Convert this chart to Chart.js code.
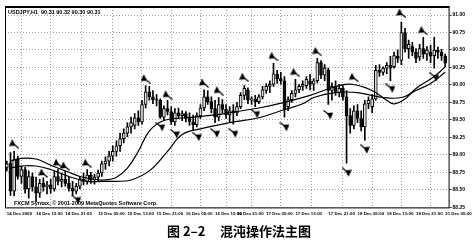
<!DOCTYPE html>
<html lang="zh">
<head>
<meta charset="UTF-8">
<title>混沌操作法主图</title>
<script src="https://cdn.jsdelivr.net/npm/chart.js@4.4.1/dist/chart.umd.min.js"></script>
<style>
  html, body { margin: 0; padding: 0; background: #fff; }
</style>
</head>
<body>
<canvas id="chart" width="475" height="243"></canvas>
<script>
// USDJPY H1 candles (one value per bar)
const opens = [
  88.82, 88.88, 88.48, 88.94, 88.69, 88.79, 88.51, 88.69, 88.54, 88.45,
  88.59, 88.54, 88.57, 88.51, 88.69, 88.62, 88.65, 88.59, 88.52, 88.48,
  88.55, 88.65, 88.62, 88.71, 88.64, 88.68, 88.74, 88.87, 88.91, 88.98,
  89.05, 89.13, 89.23, 89.31, 89.40, 89.42, 89.53, 89.47, 89.72, 89.90,
  89.83, 89.79, 89.78, 89.54, 89.66, 89.62, 89.47, 89.60, 89.56, 89.59,
  89.52, 89.47, 89.43, 89.56, 89.67, 89.83, 89.76, 89.66, 89.54, 89.72,
  89.65, 89.57, 89.63, 89.60, 89.69, 89.85, 89.93, 89.78, 89.80, 89.76,
  89.83, 89.92, 89.98, 90.01, 90.15, 90.09, 90.06, 89.69, 89.79, 89.88,
  89.93, 89.98, 89.99, 90.06, 90.01, 90.06, 90.32, 90.14, 90.21, 89.92,
  89.98, 89.89, 89.95, 89.83, 89.56, 89.42, 89.63, 89.52, 89.40, 89.73,
  89.69, 89.80, 90.21, 90.18, 90.24, 90.28, 90.26, 90.41, 90.35, 90.75,
  90.52, 90.55, 90.47, 90.40, 90.52, 90.44, 90.47, 90.42, 90.50, 90.47,
  90.41
];
const highs = [
  88.91, 89.03, 89.05, 88.98, 88.84, 88.82, 88.77, 88.74, 88.68, 88.65,
  88.67, 88.62, 88.65, 88.77, 88.79, 88.74, 88.77, 88.68, 88.62, 88.59,
  88.68, 88.74, 88.79, 88.75, 88.72, 88.78, 88.91, 88.97, 89.05, 89.13,
  89.20, 89.31, 89.37, 89.46, 89.54, 89.59, 89.63, 89.78, 89.99, 89.98,
  89.92, 89.86, 89.80, 89.70, 89.78, 89.69, 89.66, 89.67, 89.63, 89.62,
  89.60, 89.57, 89.60, 89.72, 89.93, 89.92, 89.83, 89.78, 89.82, 89.79,
  89.72, 89.69, 89.72, 89.75, 89.89, 89.99, 89.96, 89.83, 89.85, 89.86,
  89.98, 90.02, 90.06, 90.31, 90.21, 90.18, 90.12, 89.83, 89.92, 90.08,
  90.01, 90.06, 90.12, 90.15, 90.09, 90.38, 90.35, 90.29, 90.24, 90.03,
  90.06, 90.01, 89.99, 89.92, 89.66, 89.70, 89.72, 89.63, 89.78, 89.83,
  89.86, 90.28, 90.29, 90.26, 90.32, 90.41, 90.47, 90.50, 90.90, 90.81,
  90.64, 90.61, 90.52, 90.58, 90.68, 90.55, 90.57, 90.68, 90.54, 90.51,
  90.44
];
const lows = [
  88.77, 88.42, 88.41, 88.65, 88.59, 88.45, 88.38, 88.48, 88.33, 88.39,
  88.48, 88.44, 88.45, 88.48, 88.57, 88.54, 88.55, 88.48, 88.42, 88.44,
  88.51, 88.57, 88.58, 88.59, 88.58, 88.62, 88.69, 88.79, 88.84, 88.91,
  88.98, 89.05, 89.17, 89.26, 89.31, 89.37, 89.42, 89.44, 89.67, 89.78,
  89.73, 89.70, 89.52, 89.50, 89.57, 89.43, 89.42, 89.52, 89.49, 89.47,
  89.42, 89.36, 89.40, 89.52, 89.63, 89.72, 89.60, 89.46, 89.49, 89.60,
  89.52, 89.47, 89.44, 89.56, 89.66, 89.79, 89.73, 89.72, 89.69, 89.73,
  89.80, 89.88, 89.89, 89.98, 90.02, 90.01, 89.54, 89.63, 89.75, 89.83,
  89.89, 89.92, 89.95, 89.93, 89.92, 90.03, 90.09, 90.06, 89.72, 89.78,
  89.85, 89.83, 89.78, 88.88, 89.31, 89.37, 89.46, 89.34, 89.21, 89.66,
  89.60, 89.78, 90.12, 90.14, 90.16, 90.06, 90.24, 90.32, 90.29, 90.47,
  90.38, 90.42, 90.32, 90.35, 90.38, 90.35, 90.32, 90.24, 90.38, 90.35,
  90.26
];
const closes = [
  88.87, 88.48, 88.94, 88.69, 88.79, 88.51, 88.69, 88.54, 88.45, 88.59,
  88.54, 88.57, 88.51, 88.69, 88.62, 88.65, 88.59, 88.52, 88.48, 88.55,
  88.65, 88.62, 88.71, 88.64, 88.68, 88.74, 88.87, 88.91, 88.98, 89.05,
  89.13, 89.23, 89.31, 89.40, 89.46, 89.53, 89.47, 89.72, 89.90, 89.83,
  89.79, 89.78, 89.54, 89.66, 89.62, 89.47, 89.60, 89.56, 89.59, 89.52,
  89.47, 89.43, 89.56, 89.67, 89.83, 89.76, 89.66, 89.54, 89.72, 89.65,
  89.57, 89.63, 89.60, 89.69, 89.85, 89.95, 89.78, 89.80, 89.76, 89.83,
  89.93, 89.98, 90.01, 90.16, 90.09, 90.06, 89.66, 89.79, 89.88, 89.93,
  89.98, 90.01, 90.08, 90.01, 90.06, 90.32, 90.14, 90.24, 89.92, 89.98,
  89.89, 89.95, 89.83, 89.56, 89.42, 89.63, 89.52, 89.40, 89.73, 89.78,
  89.80, 90.21, 90.18, 90.24, 90.28, 90.24, 90.42, 90.38, 90.75, 90.52,
  90.58, 90.47, 90.38, 90.52, 90.44, 90.50, 90.41, 90.50, 90.47, 90.42,
  90.31
];

// fractal arrows (bar index, price where the arrow sits)
const upBars = [2, 10, 14, 16, 22, 38, 44, 54, 58, 65, 73, 79, 85, 95, 108, 114];
const upPrices = [89.16, 88.74, 88.88, 88.84, 88.88, 90.09, 89.86, 90.03, 89.92, 90.11, 90.41, 90.18, 90.48, 90.11, 91.03, 90.78];
const downBars = [19, 42, 46, 52, 57, 62, 68, 76, 88, 93, 98, 105, 117];
const downPrices = [88.36, 89.40, 89.30, 89.26, 89.31, 89.31, 89.59, 89.40, 89.57, 88.75, 89.08, 89.95, 90.11];

// the two moving-average lines, sampled along the picture
const fastBars = [1, 4, 8, 12, 17, 20, 24, 27, 30, 33, 36, 39, 43, 49, 57, 63, 69, 76, 83, 89, 94, 100, 104, 106, 109, 112, 117, 120];
const fastValues = [88.91, 88.95, 88.94, 88.85, 88.75, 88.69, 88.65, 88.64, 88.68, 88.81, 89.05, 89.34, 89.49, 89.53, 89.57, 89.62, 89.67, 89.75, 89.85, 89.96, 90.01, 89.92, 89.78, 89.73, 89.80, 89.95, 90.12, 90.26];
const slowBars = [1, 4, 8, 12, 17, 22, 26, 30, 34, 39, 44, 48, 53, 61, 69, 75, 81, 84, 90, 96, 103, 108, 112, 116, 120];
const slowValues = [88.81, 88.84, 88.84, 88.79, 88.69, 88.62, 88.62, 88.62, 88.64, 88.77, 89.05, 89.29, 89.37, 89.46, 89.53, 89.63, 89.73, 89.82, 89.89, 89.89, 89.82, 89.82, 89.92, 90.02, 90.18];

// axis ticks
const xTickBars = [0, 8, 16, 25, 33, 41, 49, 57, 63, 71, 79, 88, 96, 104, 112, 120];
const xTickLabels = ['14 Dec 2009', '14 Dec 13:00', '14 Dec 21:00', '15 Dec 05:00', '15 Dec 13:00',
  '15 Dec 21:00', '16 Dec 05:00', '16 Dec 13:00', '16 Dec 21:00', '17 Dec 05:00', '17 Dec 13:00',
  '17 Dec 21:00', '18 Dec 05:00', '18 Dec 13:00', '18 Dec 21:00', '21 Dec 05:00'];
const yTicks = [88.25, 88.5, 88.75, 89.0, 89.25, 89.5, 89.75, 90.0, 90.25, 90.5, 90.75, 91.0];

const headerText = 'USDJPY,H1  90.31 90.32 90.30 90.31';
const footerText = 'FXCM Syntax, \u00a9 2001-2009 MetaQuotes Software Corp.';
const caption = '图 2–2     混沌操作法主图';

const tickFont = { family: 'Liberation Sans', size: 5, weight: 'bold' };
const xTickFont = { family: 'Liberation Sans', size: 4.4, weight: 'bold' };

// small arrow glyphs like the terminal's fractal marks
function arrowGlyph(up) {
  const c = document.createElement('canvas');
  c.width = 10; c.height = 10;
  const g = c.getContext('2d');
  g.fillStyle = '#000'; g.strokeStyle = '#000'; g.lineWidth = 1.2;
  if (up) {
    g.beginPath(); g.moveTo(3, 0.5); g.lineTo(6.5, 7); g.lineTo(0, 7.5); g.closePath(); g.fill();
    g.beginPath(); g.moveTo(4, 5); g.lineTo(9.5, 9.5); g.stroke();
  } else {
    g.beginPath(); g.moveTo(7, 9.5); g.lineTo(3.5, 3); g.lineTo(10, 2.5); g.closePath(); g.fill();
    g.beginPath(); g.moveTo(6, 5); g.lineTo(0.5, 0.5); g.stroke();
  }
  return c;
}

const idx = opens.map((_, i) => i);
const bodies = idx.map(i => ({ x: i, y: [opens[i], closes[i]] }));
const wicks = idx.map(i => ({ x: i, y: [lows[i], highs[i]] }));

const frame = {
  id: 'frame',
  afterDraw(chart) {
    const { ctx, chartArea: a } = chart;
    ctx.save();
    ctx.strokeStyle = '#000';
    ctx.lineWidth = 1;
    ctx.strokeRect(a.left + 0.5, a.top + 0.5, a.width - 1, a.height - 1);
    ctx.fillRect(a.left, a.top - 1, a.width, 2);
    ctx.fillStyle = '#000';
    ctx.font = 'bold 5.5px "Liberation Sans"';
    ctx.textBaseline = 'top';
    ctx.fillText(headerText, a.left + 3, a.top + 3);
    ctx.textBaseline = 'bottom';
    ctx.fillText(footerText, a.left + 9, a.bottom - 2);
    ctx.restore();
  }
};

new Chart(document.getElementById('chart'), {
  type: 'bar',
  data: {
    datasets: [
      {
        type: 'line', label: 'fast', data: fastBars.map((b, i) => ({ x: b, y: fastValues[i] })),
        borderColor: '#000', borderWidth: 1.2, pointRadius: 0, tension: 0.4, order: 0
      },
      {
        type: 'line', label: 'slow', data: slowBars.map((b, i) => ({ x: b, y: slowValues[i] })),
        borderColor: '#000', borderWidth: 1.2, pointRadius: 0, tension: 0.4, order: 0
      },
      {
        type: 'scatter', label: 'up', data: upBars.map((b, i) => ({ x: b, y: upPrices[i] })),
        pointStyle: arrowGlyph(true), order: 0
      },
      {
        type: 'scatter', label: 'down', data: downBars.map((b, i) => ({ x: b, y: downPrices[i] })),
        pointStyle: arrowGlyph(false), order: 0
      },
      {
        label: 'body', data: bodies, grouped: false, barThickness: 3, order: 1,
        backgroundColor: ctx => closes[ctx.dataIndex] >= opens[ctx.dataIndex] ? '#e0e0e0' : '#111',
        borderColor: '#000', borderWidth: 1, borderSkipped: false
      },
      {
        label: 'wick', data: wicks, grouped: false, barThickness: 1, order: 2,
        backgroundColor: '#000'
      }
    ]
  },
  options: {
    responsive: false,
    animation: false,
    devicePixelRatio: 1,
    layout: { padding: { left: 3, top: 7, right: 0, bottom: 0 } },
    plugins: {
      legend: { display: false },
      tooltip: { enabled: false },
      title: {
        display: true, position: 'bottom', text: caption, color: '#000',
        font: { family: 'Noto Sans CJK SC', size: 13, weight: 'bold' },
        padding: { top: 4, bottom: 4 }
      }
    },
    scales: {
      x: {
        type: 'linear', min: -0.5, max: 121.2, offset: false,
        afterBuildTicks: s => { s.ticks = xTickBars.map(v => ({ value: v })); },
        afterFit: s => { s.height = 11; },
        grid: { color: '#8a8a8a', lineWidth: 0.8, drawTicks: false },
        border: { display: false, dash: [1, 2] },
        ticks: {
          align: 'start', autoSkip: false, maxRotation: 0, padding: 3, color: '#000', font: xTickFont,
          callback: v => xTickLabels[xTickBars.indexOf(v)] || ''
        }
      },
      y: {
        position: 'right', min: 88.233, max: 91.115,
        afterBuildTicks: s => { s.ticks = yTicks.map(v => ({ value: v })); },
        afterFit: s => { s.width = 20; },
        grid: { color: '#8a8a8a', lineWidth: 0.8, tickLength: 2, tickColor: '#000' },
        border: { display: false, dash: [1, 2] },
        ticks: { padding: 1, color: '#000', font: tickFont, callback: v => v.toFixed(2) }
      }
    }
  },
  plugins: [frame]
});
</script>
</body>
</html>
